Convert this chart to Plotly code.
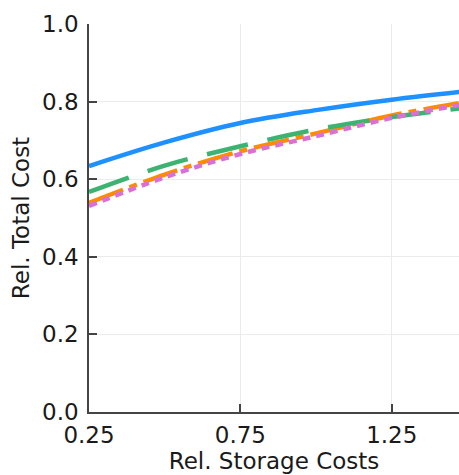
import plotly.graph_objects as go

# Relative storage cost (x) and relative total cost (y) for each scenario
storage_cost = [0.25, 0.5, 0.75, 1.0, 1.25, 1.5]
cost_a = [0.634, 0.695, 0.745, 0.778, 0.805, 0.827]
cost_b = [0.539, 0.612, 0.672, 0.718, 0.764, 0.800]
cost_c = [0.567, 0.635, 0.685, 0.728, 0.760, 0.785]
cost_d = [0.531, 0.605, 0.665, 0.711, 0.758, 0.795]

x_ticks = [0.25, 0.75, 1.25]
y_ticks = [0.0, 0.2, 0.4, 0.6, 0.8, 1.0]

series = [
    (cost_a, "#1E90FF", "solid"),
    (cost_b, "#FF8C00", "36px,7px,8px,7px"),
    (cost_c, "#3CB371", "42px,20px"),
    (cost_d, "#DA70D6", "8px,6px"),
]

fig = go.Figure()
for ys, color, dash in series:
    fig.add_trace(go.Scatter(
        x=storage_cost, y=ys, mode="lines",
        line=dict(color=color, width=4.5, dash=dash, shape="spline"),
        showlegend=False, hoverinfo="skip",
    ))

font = dict(family="DejaVu Sans", size=23, color="#1a1a1a")
axis_common = dict(
    showgrid=True, gridcolor="#ebebeb", gridwidth=1,
    showline=True, linecolor="#444444", linewidth=1.5,
    ticks="inside", ticklen=8, tickwidth=1.5, tickcolor="#444444",
    zeroline=False, tickfont=font,
)

fig.update_layout(
    width=459, height=475,
    margin=dict(l=89, r=0, t=24, b=63),
    plot_bgcolor="white", paper_bgcolor="white",
    font=font,
    xaxis=dict(
        range=[0.25, 1.472], tickvals=x_ticks,
        ticktext=[f"{v:.2f}" for v in x_ticks],
        title=dict(text="Rel. Storage Costs", font=font, standoff=5),
        ticklabelstandoff=2,
        **axis_common,
    ),
    yaxis=dict(
        range=[0.0, 1.0], tickvals=y_ticks,
        ticktext=[f"{v:.1f}" for v in y_ticks],
        title=dict(text="Rel. Total Cost", font=font, standoff=6),
        ticklabelstandoff=4,
        **axis_common,
    ),
)

fig.write_html("out.html")
